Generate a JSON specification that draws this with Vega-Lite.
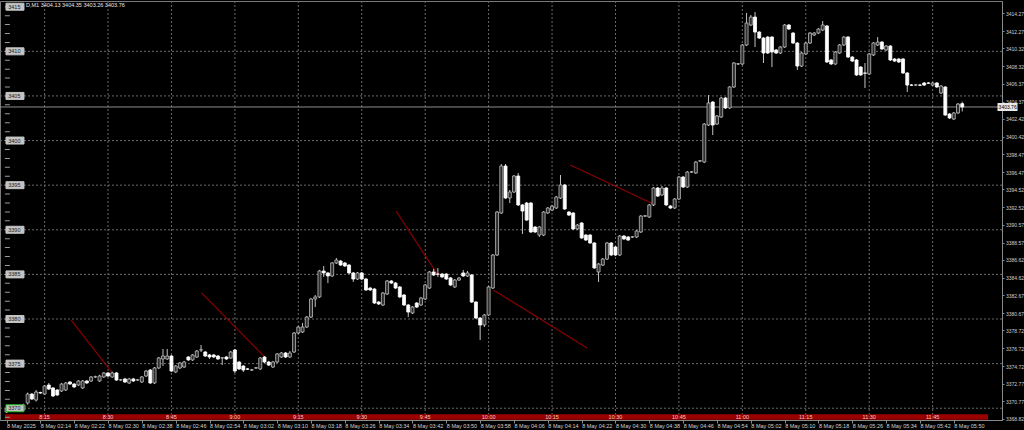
{
"$schema": "https://vega.github.io/schema/vega-lite/v6.json",
"width": 1002, "height": 419,
"autosize": {"type": "none"},
"padding": {"left": 0, "top": 1, "right": 22, "bottom": 10},
"background": "#000000",
"config": {"view": {"stroke": "#7a7a7a"}, "font": "Liberation Sans", "axis": {"labelOverlap": false, "labelBound": false, "labelFlush": false}},
"datasets": {
"levels": [{"p":3370},{"p":3375},{"p":3380},{"p":3385},{"p":3390},{"p":3395},{"p":3400},{"p":3405},{"p":3410},{"p":3415}],
"units": [{"p":3369},{"p":3370},{"p":3371},{"p":3372},{"p":3373},{"p":3374},{"p":3375},{"p":3376},{"p":3377},{"p":3378},{"p":3379},{"p":3380},{"p":3381},{"p":3382},{"p":3383},{"p":3384},{"p":3385},{"p":3386},{"p":3387},{"p":3388},{"p":3389},{"p":3390},{"p":3391},{"p":3392},{"p":3393},{"p":3394},{"p":3395},{"p":3396},{"p":3397},{"p":3398},{"p":3399},{"p":3400},{"p":3401},{"p":3402},{"p":3403},{"p":3404},{"p":3405},{"p":3406},{"p":3407},{"p":3408},{"p":3409},{"p":3410},{"p":3411},{"p":3412},{"p":3413},{"p":3414},{"p":3415}],
"quarters": [{"t":135,"lbl":"8:15"},{"t":150,"lbl":"8:30"},{"t":165,"lbl":"8:45"},{"t":180,"lbl":"9:00"},{"t":195,"lbl":"9:15"},{"t":210,"lbl":"9:30"},{"t":225,"lbl":"9:45"},{"t":240,"lbl":"10:00"},{"t":255,"lbl":"10:15"},{"t":270,"lbl":"10:30"},{"t":285,"lbl":"10:45"},{"t":300,"lbl":"11:00"},{"t":315,"lbl":"11:15"},{"t":330,"lbl":"11:30"},{"t":345,"lbl":"11:45"}],
"trend": [{"t1":141.25,"p1":3379.89,"t2":151.0,"p2":3373.95},{"t1":172.06,"p1":3382.95,"t2":187.14,"p2":3375.71},{"t1":218.11,"p1":3392.10,"t2":228.01,"p2":3384.93},{"t1":241.13,"p1":3383.25,"t2":263.3,"p2":3376.75},{"t1":259.3,"p1":3397.26,"t2":278.98,"p2":3392.89}],
"candles": [
{"t":126,"o":3369.58,"h":3370.03,"l":3369.46,"c":3369.91},
{"t":127,"o":3369.80,"h":3370.15,"l":3369.69,"c":3370.03},
{"t":128,"o":3370.03,"h":3370.20,"l":3369.69,"c":3369.80},
{"t":129,"o":3369.69,"h":3370.15,"l":3369.58,"c":3370.03},
{"t":130,"o":3369.80,"h":3370.50,"l":3369.69,"c":3370.36},
{"t":131,"o":3370.59,"h":3371.75,"l":3370.40,"c":3371.59},
{"t":132,"o":3371.59,"h":3371.70,"l":3370.92,"c":3371.03},
{"t":133,"o":3370.92,"h":3372.04,"l":3370.75,"c":3371.82},
{"t":134,"o":3371.75,"h":3371.85,"l":3371.60,"c":3371.71},
{"t":135,"o":3371.59,"h":3372.60,"l":3371.48,"c":3372.49},
{"t":136,"o":3372.60,"h":3372.83,"l":3372.04,"c":3372.15},
{"t":137,"o":3372.27,"h":3372.38,"l":3371.25,"c":3371.37},
{"t":138,"o":3372.04,"h":3372.15,"l":3371.37,"c":3371.48},
{"t":139,"o":3371.93,"h":3372.83,"l":3371.82,"c":3372.71},
{"t":140,"o":3372.04,"h":3372.94,"l":3371.93,"c":3372.83},
{"t":141,"o":3372.94,"h":3373.05,"l":3372.60,"c":3372.71},
{"t":142,"o":3372.71,"h":3372.83,"l":3372.27,"c":3372.38},
{"t":143,"o":3372.60,"h":3373.16,"l":3372.49,"c":3373.05},
{"t":144,"o":3372.27,"h":3373.16,"l":3372.15,"c":3373.05},
{"t":145,"o":3373.05,"h":3373.16,"l":3372.71,"c":3372.83},
{"t":146,"o":3373.05,"h":3373.61,"l":3372.94,"c":3373.50},
{"t":147,"o":3373.50,"h":3373.65,"l":3373.40,"c":3373.52},
{"t":148,"o":3373.05,"h":3373.75,"l":3372.94,"c":3373.61},
{"t":149,"o":3373.50,"h":3374.06,"l":3373.40,"c":3373.95},
{"t":150,"o":3373.95,"h":3374.06,"l":3373.50,"c":3373.61},
{"t":151,"o":3373.50,"h":3374.10,"l":3373.40,"c":3373.95},
{"t":152,"o":3373.95,"h":3374.06,"l":3373.05,"c":3373.16},
{"t":153,"o":3373.16,"h":3373.28,"l":3373.05,"c":3373.18},
{"t":154,"o":3373.28,"h":3373.40,"l":3372.83,"c":3372.94},
{"t":155,"o":3372.83,"h":3373.40,"l":3372.71,"c":3373.28},
{"t":156,"o":3373.28,"h":3373.40,"l":3372.94,"c":3373.05},
{"t":157,"o":3373.16,"h":3373.28,"l":3373.05,"c":3373.18},
{"t":158,"o":3372.94,"h":3373.61,"l":3372.83,"c":3373.50},
{"t":159,"o":3373.61,"h":3374.28,"l":3373.50,"c":3374.17},
{"t":160,"o":3374.28,"h":3374.40,"l":3372.71,"c":3372.83},
{"t":161,"o":3372.83,"h":3374.62,"l":3372.71,"c":3374.51},
{"t":162,"o":3374.51,"h":3375.74,"l":3374.40,"c":3375.63},
{"t":163,"o":3375.52,"h":3376.64,"l":3374.73,"c":3375.85},
{"t":164,"o":3375.52,"h":3376.64,"l":3375.41,"c":3375.85},
{"t":165,"o":3375.85,"h":3375.97,"l":3374.06,"c":3374.17},
{"t":166,"o":3374.06,"h":3374.84,"l":3373.95,"c":3374.73},
{"t":167,"o":3374.51,"h":3375.18,"l":3374.40,"c":3375.07},
{"t":168,"o":3374.62,"h":3375.30,"l":3374.51,"c":3375.18},
{"t":169,"o":3375.74,"h":3375.85,"l":3375.30,"c":3375.41},
{"t":170,"o":3375.41,"h":3376.08,"l":3375.30,"c":3375.97},
{"t":171,"o":3375.74,"h":3376.53,"l":3375.63,"c":3376.41},
{"t":172,"o":3376.53,"h":3377.09,"l":3376.30,"c":3376.55},
{"t":173,"o":3376.30,"h":3376.41,"l":3375.74,"c":3375.85},
{"t":174,"o":3375.97,"h":3376.08,"l":3375.52,"c":3375.74},
{"t":175,"o":3375.97,"h":3376.08,"l":3375.63,"c":3375.74},
{"t":176,"o":3375.85,"h":3375.97,"l":3375.41,"c":3375.52},
{"t":177,"o":3375.63,"h":3375.74,"l":3374.84,"c":3375.65},
{"t":178,"o":3375.74,"h":3375.85,"l":3375.41,"c":3375.52},
{"t":179,"o":3375.63,"h":3376.41,"l":3375.52,"c":3376.30},
{"t":180,"o":3376.53,"h":3376.64,"l":3373.95,"c":3374.17},
{"t":181,"o":3375.18,"h":3375.30,"l":3374.28,"c":3374.40},
{"t":182,"o":3374.73,"h":3374.84,"l":3374.06,"c":3374.28},
{"t":183,"o":3374.40,"h":3374.51,"l":3374.28,"c":3374.38},
{"t":184,"o":3374.28,"h":3374.40,"l":3374.17,"c":3374.30},
{"t":185,"o":3374.51,"h":3374.62,"l":3374.40,"c":3374.53},
{"t":186,"o":3374.40,"h":3375.74,"l":3374.28,"c":3375.63},
{"t":187,"o":3375.74,"h":3375.85,"l":3375.07,"c":3375.18},
{"t":188,"o":3375.18,"h":3375.30,"l":3374.73,"c":3374.84},
{"t":189,"o":3374.62,"h":3375.30,"l":3374.51,"c":3375.18},
{"t":190,"o":3375.18,"h":3376.19,"l":3375.07,"c":3376.08},
{"t":191,"o":3375.74,"h":3376.30,"l":3375.63,"c":3376.19},
{"t":192,"o":3376.19,"h":3376.30,"l":3375.63,"c":3375.74},
{"t":193,"o":3375.74,"h":3376.41,"l":3375.63,"c":3376.19},
{"t":194,"o":3376.30,"h":3378.54,"l":3376.19,"c":3378.43},
{"t":195,"o":3378.43,"h":3379.22,"l":3378.31,"c":3379.10},
{"t":196,"o":3378.54,"h":3379.55,"l":3378.43,"c":3379.10},
{"t":197,"o":3379.10,"h":3380.34,"l":3378.99,"c":3380.22},
{"t":198,"o":3380.22,"h":3382.35,"l":3380.11,"c":3382.24},
{"t":199,"o":3382.24,"h":3382.69,"l":3381.34,"c":3382.47},
{"t":200,"o":3382.47,"h":3385.50,"l":3382.35,"c":3385.38},
{"t":201,"o":3385.38,"h":3385.94,"l":3384.71,"c":3385.16},
{"t":202,"o":3385.16,"h":3385.27,"l":3384.03,"c":3384.82},
{"t":203,"o":3384.82,"h":3386.39,"l":3384.71,"c":3386.28},
{"t":204,"o":3386.28,"h":3386.84,"l":3386.16,"c":3386.61},
{"t":205,"o":3386.50,"h":3386.61,"l":3385.94,"c":3386.05},
{"t":206,"o":3386.28,"h":3386.39,"l":3385.83,"c":3385.94},
{"t":207,"o":3386.05,"h":3386.16,"l":3385.04,"c":3385.16},
{"t":208,"o":3385.16,"h":3385.27,"l":3384.15,"c":3384.48},
{"t":209,"o":3384.48,"h":3385.27,"l":3384.37,"c":3385.16},
{"t":210,"o":3385.16,"h":3385.27,"l":3384.37,"c":3384.48},
{"t":211,"o":3384.48,"h":3384.60,"l":3383.14,"c":3383.25},
{"t":212,"o":3383.47,"h":3383.59,"l":3383.14,"c":3383.25},
{"t":213,"o":3383.36,"h":3383.47,"l":3381.68,"c":3381.79},
{"t":214,"o":3381.90,"h":3382.02,"l":3381.57,"c":3381.68},
{"t":215,"o":3381.57,"h":3383.03,"l":3381.45,"c":3382.91},
{"t":216,"o":3382.80,"h":3384.37,"l":3382.69,"c":3384.26},
{"t":217,"o":3384.26,"h":3384.37,"l":3383.92,"c":3384.03},
{"t":218,"o":3384.03,"h":3384.15,"l":3383.36,"c":3383.47},
{"t":219,"o":3383.59,"h":3383.70,"l":3382.35,"c":3382.47},
{"t":220,"o":3382.69,"h":3382.80,"l":3381.45,"c":3381.57},
{"t":221,"o":3381.57,"h":3381.68,"l":3380.22,"c":3380.78},
{"t":222,"o":3380.67,"h":3381.45,"l":3380.56,"c":3381.34},
{"t":223,"o":3381.79,"h":3381.90,"l":3381.23,"c":3381.34},
{"t":224,"o":3381.57,"h":3382.47,"l":3381.45,"c":3382.35},
{"t":225,"o":3382.24,"h":3383.92,"l":3382.13,"c":3383.81},
{"t":226,"o":3383.47,"h":3385.38,"l":3383.36,"c":3385.27},
{"t":227,"o":3385.27,"h":3385.61,"l":3384.82,"c":3384.93},
{"t":228,"o":3385.04,"h":3385.72,"l":3384.71,"c":3385.02},
{"t":229,"o":3385.04,"h":3385.16,"l":3384.60,"c":3384.71},
{"t":230,"o":3385.04,"h":3385.16,"l":3384.37,"c":3384.48},
{"t":231,"o":3384.60,"h":3384.71,"l":3383.70,"c":3383.81},
{"t":232,"o":3383.59,"h":3384.48,"l":3383.47,"c":3384.37},
{"t":233,"o":3384.37,"h":3384.71,"l":3384.26,"c":3384.60},
{"t":234,"o":3385.16,"h":3385.50,"l":3384.71,"c":3384.82},
{"t":235,"o":3384.82,"h":3385.38,"l":3384.71,"c":3385.16},
{"t":236,"o":3384.93,"h":3385.04,"l":3381.79,"c":3381.90},
{"t":237,"o":3381.90,"h":3382.02,"l":3379.99,"c":3380.11},
{"t":238,"o":3380.11,"h":3380.22,"l":3377.65,"c":3379.33},
{"t":239,"o":3379.33,"h":3380.56,"l":3379.10,"c":3380.45},
{"t":240,"o":3380.45,"h":3383.70,"l":3380.34,"c":3383.59},
{"t":241,"o":3383.47,"h":3387.28,"l":3383.36,"c":3387.17},
{"t":242,"o":3387.17,"h":3392.10,"l":3387.06,"c":3391.99},
{"t":243,"o":3391.88,"h":3397.37,"l":3391.77,"c":3397.15},
{"t":244,"o":3397.15,"h":3397.37,"l":3393.45,"c":3393.56},
{"t":245,"o":3393.56,"h":3394.46,"l":3393.00,"c":3394.23},
{"t":246,"o":3394.23,"h":3396.14,"l":3394.12,"c":3396.03},
{"t":247,"o":3396.03,"h":3396.36,"l":3392.66,"c":3392.78},
{"t":248,"o":3392.78,"h":3392.89,"l":3389.53,"c":3392.10},
{"t":249,"o":3393.00,"h":3393.12,"l":3390.98,"c":3391.09},
{"t":250,"o":3393.00,"h":3393.12,"l":3389.64,"c":3389.75},
{"t":251,"o":3390.31,"h":3390.42,"l":3389.64,"c":3389.75},
{"t":252,"o":3389.41,"h":3390.42,"l":3389.19,"c":3390.31},
{"t":253,"o":3389.41,"h":3392.10,"l":3389.30,"c":3391.99},
{"t":254,"o":3391.88,"h":3392.55,"l":3391.77,"c":3392.44},
{"t":255,"o":3392.21,"h":3392.78,"l":3392.10,"c":3392.66},
{"t":256,"o":3392.44,"h":3393.78,"l":3392.33,"c":3393.67},
{"t":257,"o":3393.56,"h":3396.14,"l":3393.45,"c":3395.02},
{"t":258,"o":3395.02,"h":3395.14,"l":3392.21,"c":3392.33},
{"t":259,"o":3391.99,"h":3392.10,"l":3391.54,"c":3391.65},
{"t":260,"o":3391.88,"h":3391.99,"l":3389.97,"c":3390.09},
{"t":261,"o":3390.09,"h":3390.65,"l":3389.97,"c":3390.53},
{"t":262,"o":3390.76,"h":3390.87,"l":3388.97,"c":3389.08},
{"t":263,"o":3389.41,"h":3389.53,"l":3388.74,"c":3388.85},
{"t":264,"o":3389.41,"h":3389.53,"l":3388.41,"c":3388.52},
{"t":265,"o":3388.52,"h":3388.63,"l":3385.61,"c":3385.72},
{"t":266,"o":3385.27,"h":3386.28,"l":3384.15,"c":3386.16},
{"t":267,"o":3386.05,"h":3386.84,"l":3385.94,"c":3386.72},
{"t":268,"o":3386.72,"h":3388.63,"l":3386.61,"c":3388.52},
{"t":269,"o":3388.52,"h":3388.63,"l":3387.06,"c":3387.17},
{"t":270,"o":3388.07,"h":3388.18,"l":3387.06,"c":3387.17},
{"t":271,"o":3387.17,"h":3389.41,"l":3387.06,"c":3389.30},
{"t":272,"o":3389.30,"h":3389.41,"l":3388.85,"c":3388.97},
{"t":273,"o":3389.19,"h":3389.30,"l":3388.74,"c":3388.85},
{"t":274,"o":3389.19,"h":3389.30,"l":3389.08,"c":3389.21},
{"t":275,"o":3389.19,"h":3389.97,"l":3389.08,"c":3389.86},
{"t":276,"o":3389.75,"h":3391.65,"l":3389.64,"c":3391.54},
{"t":277,"o":3391.54,"h":3391.65,"l":3391.43,"c":3391.56},
{"t":278,"o":3391.43,"h":3392.89,"l":3391.32,"c":3392.78},
{"t":279,"o":3392.78,"h":3394.79,"l":3392.66,"c":3394.68},
{"t":280,"o":3394.68,"h":3394.79,"l":3393.67,"c":3393.78},
{"t":281,"o":3393.90,"h":3394.90,"l":3393.78,"c":3394.68},
{"t":282,"o":3394.68,"h":3394.79,"l":3392.66,"c":3392.78},
{"t":283,"o":3392.66,"h":3392.78,"l":3392.33,"c":3392.44},
{"t":284,"o":3392.44,"h":3393.56,"l":3392.33,"c":3393.45},
{"t":285,"o":3393.45,"h":3396.03,"l":3393.34,"c":3395.91},
{"t":286,"o":3395.91,"h":3396.03,"l":3394.68,"c":3394.79},
{"t":287,"o":3394.79,"h":3396.59,"l":3394.68,"c":3396.47},
{"t":288,"o":3396.47,"h":3396.59,"l":3396.36,"c":3396.49},
{"t":289,"o":3396.36,"h":3397.71,"l":3396.25,"c":3397.59},
{"t":290,"o":3397.71,"h":3397.82,"l":3397.59,"c":3397.73},
{"t":291,"o":3397.59,"h":3401.96,"l":3397.48,"c":3401.85},
{"t":292,"o":3401.74,"h":3405.10,"l":3401.63,"c":3404.21},
{"t":293,"o":3404.32,"h":3404.43,"l":3400.62,"c":3401.74},
{"t":294,"o":3401.85,"h":3402.86,"l":3401.74,"c":3402.75},
{"t":295,"o":3402.64,"h":3404.88,"l":3402.53,"c":3404.77},
{"t":296,"o":3404.77,"h":3404.88,"l":3403.54,"c":3403.65},
{"t":297,"o":3403.65,"h":3406.11,"l":3403.54,"c":3406.00},
{"t":298,"o":3406.00,"h":3408.80,"l":3405.89,"c":3408.69},
{"t":299,"o":3408.58,"h":3408.69,"l":3408.46,"c":3408.60},
{"t":300,"o":3408.58,"h":3410.82,"l":3408.46,"c":3410.71},
{"t":301,"o":3410.71,"h":3414.29,"l":3410.59,"c":3413.17},
{"t":302,"o":3412.95,"h":3414.07,"l":3412.84,"c":3413.84},
{"t":303,"o":3413.84,"h":3414.40,"l":3410.48,"c":3412.16},
{"t":304,"o":3412.16,"h":3412.27,"l":3411.38,"c":3411.49},
{"t":305,"o":3411.49,"h":3411.60,"l":3408.69,"c":3409.81},
{"t":306,"o":3411.60,"h":3411.71,"l":3409.70,"c":3409.81},
{"t":307,"o":3411.60,"h":3411.71,"l":3408.24,"c":3409.92},
{"t":308,"o":3410.15,"h":3410.26,"l":3409.70,"c":3409.81},
{"t":309,"o":3409.81,"h":3410.59,"l":3409.70,"c":3410.48},
{"t":310,"o":3410.48,"h":3413.06,"l":3410.37,"c":3412.95},
{"t":311,"o":3412.95,"h":3413.06,"l":3412.39,"c":3412.50},
{"t":312,"o":3412.05,"h":3412.16,"l":3410.82,"c":3410.93},
{"t":313,"o":3410.93,"h":3411.04,"l":3407.91,"c":3408.35},
{"t":314,"o":3408.35,"h":3409.92,"l":3408.24,"c":3409.81},
{"t":315,"o":3409.70,"h":3411.04,"l":3409.59,"c":3410.93},
{"t":316,"o":3410.93,"h":3412.16,"l":3410.82,"c":3412.05},
{"t":317,"o":3411.83,"h":3412.16,"l":3411.71,"c":3412.05},
{"t":318,"o":3412.05,"h":3412.61,"l":3411.94,"c":3412.50},
{"t":319,"o":3412.39,"h":3413.40,"l":3412.27,"c":3412.95},
{"t":320,"o":3412.84,"h":3412.95,"l":3408.69,"c":3408.80},
{"t":321,"o":3409.03,"h":3409.14,"l":3408.46,"c":3408.58},
{"t":322,"o":3408.58,"h":3410.03,"l":3408.46,"c":3409.92},
{"t":323,"o":3409.81,"h":3410.82,"l":3409.70,"c":3410.71},
{"t":324,"o":3410.71,"h":3411.71,"l":3410.59,"c":3411.60},
{"t":325,"o":3411.60,"h":3411.71,"l":3409.25,"c":3409.36},
{"t":326,"o":3409.36,"h":3409.47,"l":3408.80,"c":3408.91},
{"t":327,"o":3409.03,"h":3409.14,"l":3407.24,"c":3407.35},
{"t":328,"o":3408.24,"h":3408.35,"l":3407.24,"c":3407.35},
{"t":329,"o":3407.57,"h":3408.69,"l":3405.89,"c":3407.55},
{"t":330,"o":3407.46,"h":3409.81,"l":3407.35,"c":3409.70},
{"t":331,"o":3409.59,"h":3411.04,"l":3409.47,"c":3410.93},
{"t":332,"o":3410.71,"h":3411.60,"l":3410.59,"c":3411.04},
{"t":333,"o":3411.04,"h":3411.15,"l":3410.15,"c":3410.26},
{"t":334,"o":3410.15,"h":3410.71,"l":3410.03,"c":3410.59},
{"t":335,"o":3410.59,"h":3410.71,"l":3408.91,"c":3409.03},
{"t":336,"o":3409.14,"h":3409.25,"l":3408.80,"c":3408.91},
{"t":337,"o":3409.14,"h":3409.25,"l":3408.69,"c":3408.80},
{"t":338,"o":3409.14,"h":3409.25,"l":3407.46,"c":3407.57},
{"t":339,"o":3407.57,"h":3407.68,"l":3405.44,"c":3406.22},
{"t":340,"o":3406.22,"h":3406.34,"l":3406.11,"c":3406.20},
{"t":341,"o":3406.22,"h":3406.34,"l":3406.11,"c":3406.24},
{"t":342,"o":3406.22,"h":3406.34,"l":3406.11,"c":3406.20},
{"t":343,"o":3406.45,"h":3406.56,"l":3406.11,"c":3406.22},
{"t":344,"o":3406.45,"h":3406.56,"l":3406.34,"c":3406.43},
{"t":345,"o":3406.22,"h":3406.56,"l":3406.11,"c":3406.45},
{"t":346,"o":3406.45,"h":3406.56,"l":3405.89,"c":3406.00},
{"t":347,"o":3405.33,"h":3406.22,"l":3405.21,"c":3406.11},
{"t":348,"o":3406.00,"h":3406.11,"l":3402.75,"c":3402.86},
{"t":349,"o":3402.97,"h":3403.09,"l":3402.41,"c":3402.53},
{"t":350,"o":3402.41,"h":3403.20,"l":3402.30,"c":3403.09},
{"t":351,"o":3403.09,"h":3404.21,"l":3402.97,"c":3404.09},
{"t":352,"o":3404.13,"h":3404.35,"l":3403.26,"c":3403.76}
]
},
"layer": [
{"data": {"name": "levels"}, "transform": [{"filter": "datum.p <= 3410"}],
 "mark": {"type": "rule", "stroke": "#6a6a6a", "strokeDash": [2, 2], "strokeWidth": 1},
 "encoding": {"y": {"field": "p", "type": "quantitative", "title": null}}},
{"data": {"name": "quarters"},
 "mark": {"type": "rule", "stroke": "#6a6a6a", "strokeDash": [2, 2], "strokeWidth": 1},
 "encoding": {"x": {"field": "t", "type": "quantitative", "title": null}}},
{"data": {"values": [{}]},
 "mark": {"type": "rect", "fill": "#9a0000"},
 "encoding": {"x": {"datum": 125.64}, "x2": {"datum": 358.1}, "y": {"datum": 3368.70}, "y2": {"datum": 3369.33}}},
{"data": {"name": "quarters"},
 "mark": {"type": "text", "fontSize": 5.5, "color": "#f2cccc", "baseline": "middle", "align": "center"},
 "encoding": {"x": {"field": "t", "type": "quantitative", "title": null}, "y": {"datum": 3369.0}, "text": {"field": "lbl"}}},
{"data": {"name": "candles"}, "transform": [{"filter": "datum.t == 352"}],
 "mark": {"type": "rule", "stroke": "#8c8c8c", "strokeWidth": 1},
 "encoding": {"y": {"field": "c", "type": "quantitative", "title": null}}},
{"data": {"name": "trend"},
 "mark": {"type": "rule", "stroke": "#8a0000", "strokeWidth": 1.2},
 "encoding": {"x": {"field": "t1", "type": "quantitative", "title": null}, "x2": {"field": "t2"}, "y": {"field": "p1", "type": "quantitative", "title": null}, "y2": {"field": "p2"}}},
{"data": {"name": "units"},
 "mark": {"type": "tick", "orient": "horizontal", "size": 5, "thickness": 1, "color": "#9a9a9a", "opacity": 1},
 "encoding": {"x": {"datum": 126.2}, "y": {"field": "p", "type": "quantitative", "title": null}}},
{"data": {"name": "candles"},
 "mark": {"type": "rule", "stroke": "#c4c4c4", "strokeWidth": 1},
 "encoding": {
  "x": {"field": "t", "type": "quantitative", "title": null, "scale": {"domain": [125.64, 360.22], "nice": false, "zero": false},
   "axis": {"orient": "bottom", "tickCount": 200, "values": [126,134,142,150,158,166,174,182,190,198,206,214,222,230,238,246,254,262,270,278,286,294,302,310,318,326,334,342,350],
    "labelExpr": "datum.value == 126 ? '8 May 2025' : '8 May ' + format(floor(datum.value / 60), '02d') + ':' + format(datum.value % 60, '02d')",
    "grid": false, "domainColor": "#8a8a8a", "tickColor": "#8a8a8a", "tickSize": 3, "labelColor": "#d0d0d0", "labelFontSize": 5.5, "labelFont": "Liberation Sans",
    "labelAlign": "left", "labelBaseline": "top", "labelPadding": 0, "labelDx": 1, "labelFlush": false, "labelOverlap": false, "labelBound": false}},
  "y": {"field": "l", "type": "quantitative", "title": null, "scale": {"domain": [3368.68, 3415.64], "nice": false, "zero": false},
   "axis": {"orient": "right", "tickCount": 200, "values": [3414.27,3412.27,3410.32,3408.32,3406.37,3404.37,3402.42,3400.42,3398.47,3396.47,3394.52,3392.52,3390.57,3388.57,3386.62,3384.62,3382.67,3380.67,3378.72,3376.72,3374.72,3372.77,3370.77,3368.82],
    "format": ".2f", "grid": false, "domainColor": "#8a8a8a", "tickColor": "#8a8a8a", "tickSize": 2, "labelColor": "#d0d0d0", "labelFontSize": 5, "labelFont": "Liberation Sans",
    "labelPadding": 1.5, "labelAlign": "left", "labelBaseline": "middle", "labelFlush": false, "labelOverlap": false, "labelBound": false}},
  "y2": {"field": "h"}}},
{"data": {"name": "candles"},
 "mark": {"type": "bar", "size": 3, "strokeWidth": 0.8},
 "encoding": {
  "x": {"field": "t", "type": "quantitative", "title": null},
  "y": {"field": "o", "type": "quantitative", "title": null},
  "y2": {"field": "c"},
  "fill": {"condition": {"test": "datum.c < datum.o", "value": "#ffffff"}, "value": "#2e2e2e"},
  "stroke": {"condition": {"test": "datum.c < datum.o", "value": "#ffffff"}, "value": "#bdbdbd"}}},
{"data": {"values": [{}]},
 "mark": {"type": "text", "align": "left", "baseline": "middle", "fontSize": 5.5, "color": "#e6e6e6"},
 "encoding": {"x": {"datum": 130.6}, "y": {"datum": 3415.15}, "text": {"value": "D,M1  3404.13 3404.35 3403.26 3403.76"}}},
{"data": {"name": "levels"},
 "mark": {"type": "tick", "orient": "horizontal", "size": 18, "thickness": 7, "opacity": 1, "strokeWidth": 1},
 "encoding": {"x": {"datum": 128.0}, "y": {"field": "p", "type": "quantitative", "title": null},
  "fill": {"value": "#c4c4c4"},
  "stroke": {"condition": {"test": "datum.p == 3370", "value": "#22b822"}, "value": "#c4c4c4"}}},
{"data": {"name": "levels"},
 "mark": {"type": "text", "align": "left", "baseline": "middle", "fontSize": 5.5, "color": "#202020"},
 "encoding": {"x": {"datum": 126.4}, "y": {"field": "p", "type": "quantitative", "title": null}, "text": {"field": "p", "type": "quantitative", "format": "d"}}},
{"data": {"name": "candles"}, "transform": [{"filter": "datum.t == 352"}],
 "mark": {"type": "tick", "orient": "horizontal", "size": 20, "thickness": 8, "opacity": 1, "color": "#e8e8e8"},
 "encoding": {"x": {"datum": 362.7}, "y": {"field": "c", "type": "quantitative", "title": null}}},
{"data": {"name": "candles"}, "transform": [{"filter": "datum.t == 352"}],
 "mark": {"type": "text", "align": "left", "baseline": "middle", "fontSize": 5, "color": "#000000"},
 "encoding": {"x": {"datum": 360.6}, "y": {"field": "c", "type": "quantitative", "title": null}, "text": {"field": "c", "type": "quantitative", "format": ".2f"}}}
]
}
